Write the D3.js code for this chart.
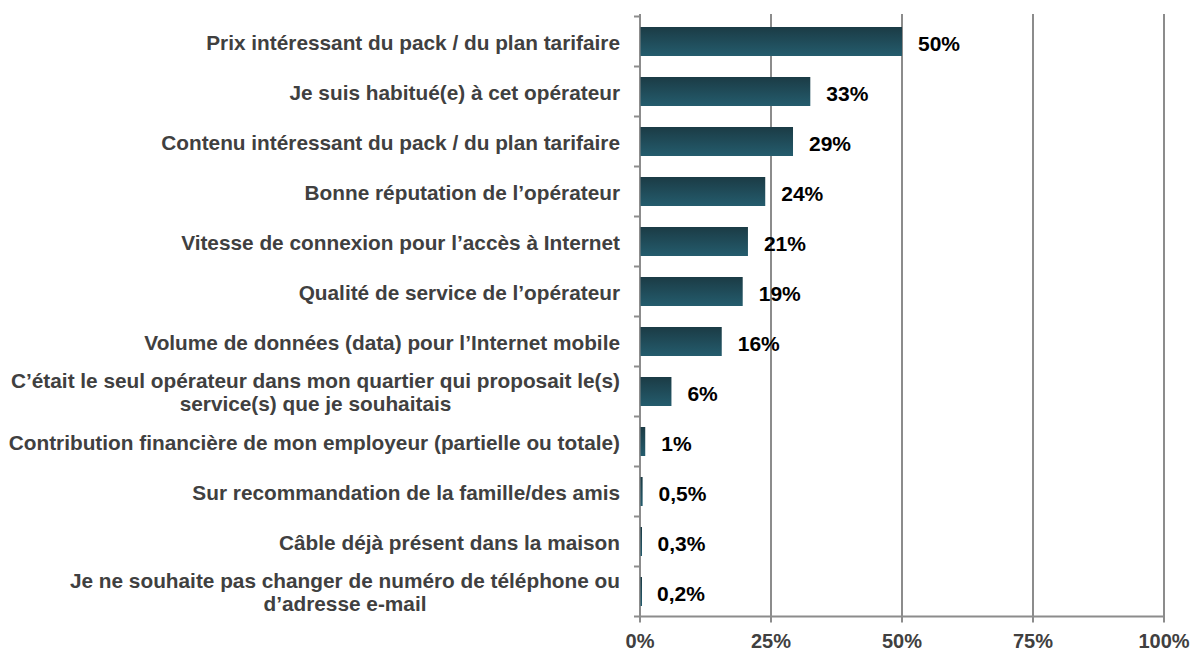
<!DOCTYPE html>
<html><head><meta charset="utf-8">
<script src="https://cdn.jsdelivr.net/npm/d3@7"></script>
<style>body{margin:0;background:#fff}svg{display:block}text{font-family:"Liberation Sans",Arial,sans-serif;font-weight:bold}</style>
</head><body><svg id="c" width="1193" height="650"></svg>
<script>
const categories = [
 ["Prix intéressant du pack / du plan tarifaire"],
 ["Je suis habitué(e) à cet opérateur"],
 ["Contenu intéressant du pack / du plan tarifaire"],
 ["Bonne réputation de l’opérateur"],
 ["Vitesse de connexion pour l’accès à Internet"],
 ["Qualité de service de l’opérateur"],
 ["Volume de données (data) pour l’Internet mobile"],
 ["C’était le seul opérateur dans mon quartier qui proposait le(s)","service(s) que je souhaitais"],
 ["Contribution financière de mon employeur (partielle ou totale)"],
 ["Sur recommandation de la famille/des amis"],
 ["Câble déjà présent dans la maison"],
 ["Je ne souhaite pas changer de numéro de téléphone ou","d’adresse e-mail"]
];
const values = [50, 32.5, 29.2, 23.9, 20.6, 19.6, 15.6, 6, 1, 0.5, 0.3, 0.2];
const valueLabels = ["50%","33%","29%","24%","21%","19%","16%","6%","1%","0,5%","0,3%","0,2%"];
const ticks = [0, 25, 50, 75, 100];

(function(){
const svg = d3.select("#c");
const pL = 640, pR = 1164, pT = 16.5, pB = 616.5;
const x = d3.scaleLinear().domain([0,100]).range([pL,pR]);
const y = d3.scaleBand().domain(d3.range(categories.length)).range([pT,pB]).paddingInner(0.42).paddingOuter(0.21);

const defs = svg.append("defs");
const g = defs.append("linearGradient").attr("id","bg").attr("x1",0).attr("x2",0).attr("y1",0).attr("y2",1);
g.append("stop").attr("offset","0%").attr("stop-color","#1b3b45");
g.append("stop").attr("offset","100%").attr("stop-color","#245c6d");

svg.append("g").selectAll("line").data(ticks.slice(1)).join("line")
 .attr("x1",d=>x(d)).attr("x2",d=>x(d)).attr("y1",14).attr("y2",pB)
 .attr("stroke","#8c8c8c").attr("stroke-width",2);

svg.append("line").attr("x1",pL).attr("x2",pL).attr("y1",14).attr("y2",pB+5).attr("stroke","#8c8c8c").attr("stroke-width",2);
const step = y.step();
svg.append("g").selectAll("line").data(d3.range(categories.length)).join("line")
 .attr("x1",pL-6).attr("x2",pL).attr("y1",(d,i)=>pT+i*step).attr("y2",(d,i)=>pT+i*step)
 .attr("stroke","#8c8c8c").attr("stroke-width",2);

svg.append("g").selectAll("rect").data(values).join("rect")
 .attr("x",x(0)+0.5).attr("y",(d,i)=>y(i)).attr("height",y.bandwidth())
 .attr("width",d=>Math.max(x(d)-x(0)-0.5,1.5)).attr("fill","url(#bg)");

svg.append("line").attr("x1",pL-6).attr("x2",pR+1).attr("y1",pB).attr("y2",pB).attr("stroke","#8c8c8c").attr("stroke-width",2);
svg.append("g").selectAll("line").data(ticks).join("line")
 .attr("x1",d=>x(d)).attr("x2",d=>x(d)).attr("y1",pB).attr("y2",pB+6)
 .attr("stroke","#8c8c8c").attr("stroke-width",2);
svg.append("g").selectAll("text").data(ticks).join("text")
 .attr("x",d=>x(d)).attr("y",pB+31).attr("text-anchor","middle")
 .attr("font-size",20).attr("fill","#404040").text(d=>d+"%");

const cl = svg.append("g");
categories.forEach((lines,i)=>{
  const cy = y(i)+y.bandwidth()/2;
  const t = cl.append("text").attr("font-size",20.8).attr("fill","#404040").attr("text-anchor","middle");
  const lh = 23;
  lines.forEach((s,j)=>{
    t.append("tspan").attr("x",0).attr("y",cy + 8 + (j-(lines.length-1)/2)*lh).text(s);
  });
  let w = 0;
  t.selectAll("tspan").each(function(){w=Math.max(w,this.getComputedTextLength());});
  t.selectAll("tspan").attr("x",620-w/2);
});

svg.append("g").selectAll("text").data(values).join("text")
 .attr("x",d=>x(d)+16).attr("y",(d,i)=>y(i)+y.bandwidth()/2+9)
 .attr("font-size",21).attr("fill","#000").text((d,i)=>valueLabels[i]);
})();
</script></body></html>
